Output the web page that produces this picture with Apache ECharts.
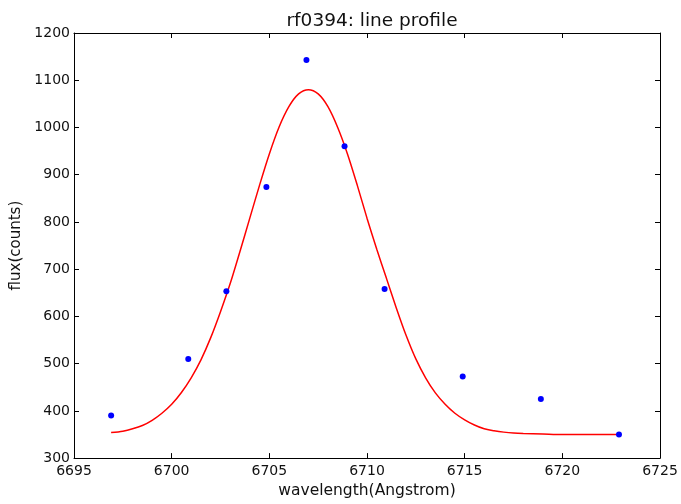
<!DOCTYPE html>
<html>
<head>
<meta charset="utf-8">
<script src="https://cdn.jsdelivr.net/npm/echarts@6/dist/echarts.min.js"></script>
<style>
html,body{margin:0;padding:0;background:#fff;}
#chart{width:681px;height:504px;}
</style>
</head>
<body>
<div id="chart"></div>
<script>
// Observed data points
const pointWavelength = [6696.9, 6700.85, 6702.8, 6704.85, 6706.9, 6708.85, 6710.9, 6714.9, 6718.9, 6722.9];
const pointFlux       = [390, 510, 653, 874, 1143, 960, 658, 473, 425, 350];

// Fitted profile
const fitWavelength = [6696.9, 6697.5, 6698, 6698.5, 6699, 6699.5, 6700, 6700.5, 6701, 6701.5, 6702, 6702.5, 6703, 6703.5, 6704, 6704.5, 6705, 6705.5, 6706, 6706.5, 6707, 6707.5, 6708, 6708.5, 6709, 6709.5, 6710, 6710.5, 6711, 6711.5, 6712, 6712.5, 6713, 6713.5, 6714, 6714.5, 6715, 6715.5, 6716, 6716.5, 6717, 6717.5, 6718, 6719, 6720, 6721, 6722, 6722.9];
const fitFlux       = [354, 357, 362, 369, 380, 395, 414, 439, 470, 508, 555, 610, 670, 738, 808, 878, 944, 1001, 1044, 1071, 1080, 1071, 1044, 1000, 944, 878, 808, 742, 680, 618, 560, 510, 470, 438, 414, 395, 381, 370, 362, 358, 355, 353, 352, 351, 350, 350, 350, 350];

const xTicks = {min: 6695, max: 6725, interval: 5};
const yTicks = {min: 300, max: 1200, interval: 100};

const titleText = 'rf0394: line profile';
const xName = 'wavelength(Angstrom)';
const yName = 'flux(counts)';

const FONT = 'DejaVu Sans';
const chart = echarts.init(document.getElementById('chart'), null, {renderer: 'canvas'});

const axisLine = {show: true, onZero: false, lineStyle: {color: '#000', width: 1}};
const tick = {show: true, inside: true, length: 5, lineStyle: {color: '#000', width: 1}};
const plain = v => String(v);

chart.setOption({
  animation: false,
  backgroundColor: '#fff',
  title: {
    text: titleText,
    left: 367, top: 7, textAlign: 'center',
    textStyle: {fontFamily: FONT, fontSize: 18.5, fontWeight: 'normal', color: '#111'}
  },
  grid: {left: 74, right: 21, top: 33, bottom: 39, containLabel: false},
  xAxis: [
    {
      type: 'value', position: 'bottom',
      min: xTicks.min, max: xTicks.max, interval: xTicks.interval,
      axisLine: axisLine, axisTick: tick, splitLine: {show: false},
      axisLabel: {fontFamily: FONT, fontSize: 14, color: '#111', margin: 6, formatter: plain, showMinLabel: true, showMaxLabel: true},
      name: xName, nameLocation: 'middle', nameGap: 16,
      nameTextStyle: {fontFamily: FONT, fontSize: 15.5, color: '#111', verticalAlign: 'top'}
    },
    {
      type: 'value', position: 'top',
      min: xTicks.min, max: xTicks.max, interval: xTicks.interval,
      axisLine: axisLine, axisTick: tick, splitLine: {show: false},
      axisLabel: {show: false}
    }
  ],
  yAxis: [
    {
      type: 'value', position: 'left',
      min: yTicks.min, max: yTicks.max, interval: yTicks.interval,
      axisLine: axisLine, axisTick: tick, splitLine: {show: false},
      axisLabel: {fontFamily: FONT, fontSize: 14, color: '#111', margin: 4, formatter: plain, showMinLabel: true, showMaxLabel: true},
      name: yName, nameLocation: 'middle', nameGap: 41, nameRotate: 90,
      nameTextStyle: {fontFamily: FONT, fontSize: 15, color: '#111'}
    },
    {
      type: 'value', position: 'right',
      min: yTicks.min, max: yTicks.max, interval: yTicks.interval,
      axisLine: axisLine, axisTick: tick, splitLine: {show: false},
      axisLabel: {show: false}
    }
  ],
  series: [
    {
      type: 'line',
      xAxisIndex: 0, yAxisIndex: 0,
      data: fitWavelength.map((x, i) => [x, fitFlux[i]]),
      showSymbol: false, smooth: 0.3,
      lineStyle: {color: '#ff0000', width: 1.5},
      z: 2
    },
    {
      type: 'scatter',
      xAxisIndex: 0, yAxisIndex: 0,
      data: pointWavelength.map((x, i) => [x, pointFlux[i]]),
      symbol: 'circle', symbolSize: 6,
      itemStyle: {color: '#0000ff', opacity: 1},
      z: 3
    }
  ]
});
</script>
</body>
</html>
